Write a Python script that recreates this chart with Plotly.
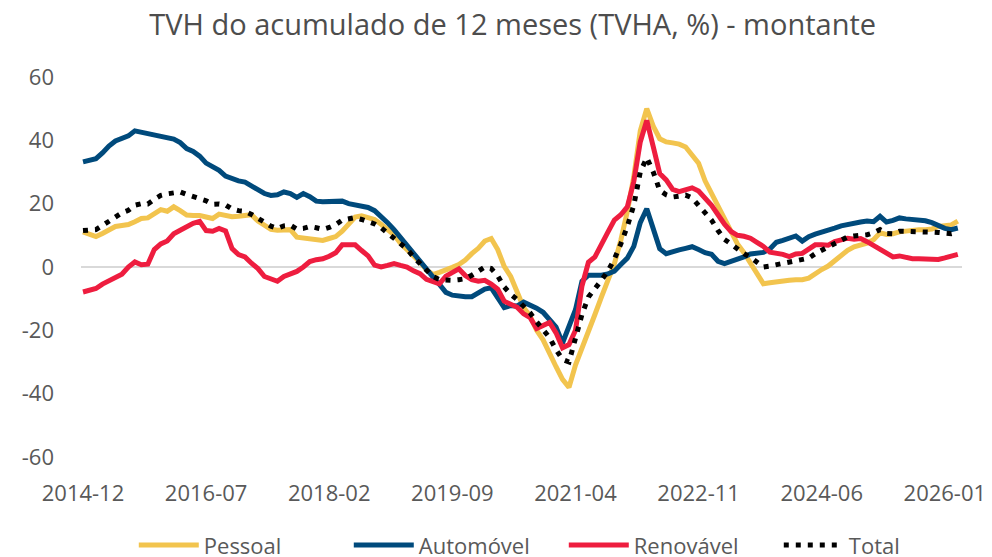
import pandas as pd
import plotly.graph_objects as go

months = [d.strftime("%Y-%m") for d in pd.date_range("2014-12-01", "2026-03-01", freq="MS")]
tick_labels = ["2014-12", "2016-07", "2018-02", "2019-09", "2021-04", "2022-11", "2024-06", "2026-01"]
y_ticks = [-60, -40, -20, 0, 20, 40, 60]
y_tick_text = ["-60", "-40", "-20", "0", "20", "40", "60"]

pessoal = [
    11.1, 10.5, 9.6, 10.6, 11.8, 12.8, 13.1, 13.4, 14.3, 15.3,
    15.5, 16.8, 18.1, 17.6, 19.0, 17.8, 16.4, 16.3, 16.3, 15.8,
    15.3, 16.7, 16.3, 15.9, 16.0, 16.3, 16.5, 14.5, 13.2, 11.9,
    11.6, 11.7, 11.8, 9.4, 9.1, 9.2, 8.6, 8.4, 9.0, 9.6,
    11.3, 13.8, 15.8, 16.2, 15.5, 15.0, 13.5, 11.8, 10.2, 7.5,
    5.6, 3.5, 1.5, -0.9, -2.4, -1.7, -1.1, -0.1, 0.8, 2.2,
    4.2, 5.9, 8.2, 9.0, 5.5, 0.2, -3.0, -7.5, -12.8, -15.5,
    -20.0, -23.0, -27.5, -31.5, -35.5, -38.0, -31.0, -26.0, -20.0, -15.0,
    -9.5, -4.5, 1.0, 8.5, 17.5, 28.5, 43.0, 50.0, 44.5, 40.5,
    39.5, 39.2, 38.8, 37.9, 35.5, 32.8, 27.2, 23.2, 18.8, 14.5,
    10.5, 7.3, 4.5, 1.2, -2.6, -5.3, -5.0, -4.6, -4.2, -4.2,
    -4.0, -4.0, -3.5, -1.9, -0.8, 0.3, 2.0, 3.9, 5.3, 6.4,
    6.9, 7.5, 8.6, 10.8, 10.3, 10.5, 11.1, 11.4, 11.6, 11.8,
    11.8, 12.0, 12.8, 13.0, 13.3, 14.5,
]

automovel = [
    33.2, 33.7, 34.2, 36.0, 38.2, 39.8, 40.7, 41.4, 43.0, 42.6,
    41.8, 41.6, 41.3, 40.9, 40.4, 39.3, 37.4, 36.5, 35.0, 32.8,
    31.7, 30.5, 28.7, 27.8, 27.2, 26.8, 25.7, 24.3, 23.2, 22.6,
    22.8, 23.7, 23.2, 22.0, 23.2, 22.2, 20.8, 20.6, 20.7, 20.8,
    20.8, 20.0, 19.6, 19.5, 18.8, 17.8, 16.0, 14.0, 11.8, 9.3,
    6.8, 4.3, 1.5, -1.2, -3.1, -5.5, -8.0, -8.9, -9.3, -9.4,
    -9.4, -8.3, -7.0, -6.6, -9.8, -12.8, -12.2, -12.3, -11.1, -12.0,
    -13.0, -14.3, -16.6, -19.0, -24.0, -19.0, -13.5, -4.5, -2.6, -2.6,
    -2.6, -2.2, -1.3, 0.8, 2.8, 6.5, 14.0, 18.4, 11.5, 5.8,
    4.2, 4.6, 5.4, 5.9, 6.4, 5.5, 4.5, 4.0, 1.8, 1.1,
    1.7, 2.7, 3.2, 4.1, 4.4, 4.6, 5.7, 7.8, 8.4, 9.0,
    9.8, 8.2, 9.6, 10.4, 10.9, 11.6, 12.3, 13.0, 13.5, 13.6,
    14.2, 14.5, 14.3, 16.0, 14.2, 14.7, 15.5, 15.2, 15.0, 15.0,
    14.6, 14.0, 12.9, 12.2, 11.8, 12.3,
]

renovavel = [
    -7.9, -7.4, -6.8, -5.4, -4.5, -3.3, -2.3, 0.0, 1.6, 0.7,
    0.9, 5.5, 7.3, 8.2, 10.5, 11.6, 12.9, 13.8, 14.4, 11.5,
    11.3, 12.2, 11.4, 5.8, 3.9, 3.2, 1.2, -0.5, -3.0, -3.7,
    -4.5, -3.0, -2.1, -1.4, 0.0, 1.7, 2.3, 2.6, 3.4, 4.5,
    7.0, 7.1, 7.0, 5.2, 3.5, 0.6, 0.0, 0.5, 1.1, 0.5,
    0.0, -1.2, -2.1, -3.9, -4.6, -5.3, -2.9, -1.7, -0.6, -2.7,
    -4.0, -4.5, -4.2, -5.4, -7.0, -10.8, -11.7, -12.7, -14.8, -16.0,
    -19.4, -18.5, -17.5, -20.8, -25.5, -24.5, -20.0, -6.0, 1.5, 3.2,
    7.5, 11.0, 14.8, 16.5, 19.0, 27.0, 39.5, 46.3, 38.0, 29.5,
    27.5, 24.5, 23.8, 24.5, 25.0, 24.0, 22.0, 19.5, 16.5, 13.5,
    11.2, 10.0, 9.7, 9.1, 7.8, 6.5, 4.7, 4.5, 4.0, 3.3,
    4.1, 4.3, 5.8, 7.0, 7.0, 6.9, 8.0, 8.5, 9.1, 8.8,
    9.0, 8.0, 6.9, 5.5, 4.4, 3.2, 3.5, 3.0, 2.6, 2.6,
    2.6, 2.6, 2.4, 2.9, 3.3, 4.0,
]

total = [
    11.5, 11.6, 11.8, 13.1, 14.5, 16.1, 17.1, 17.9, 19.5, 20.0,
    19.9, 21.4, 22.6, 23.1, 23.4, 23.7, 22.9, 22.2, 21.8, 20.9,
    19.8, 19.9, 19.6, 18.3, 17.8, 17.6, 16.6, 15.3, 14.0, 12.9,
    12.2, 13.0, 13.2, 12.0, 12.2, 12.8, 12.4, 11.9, 12.5, 13.4,
    14.8, 15.3, 15.6, 15.0, 14.4, 13.6, 12.4, 10.7, 9.2, 7.6,
    5.7, 3.2, 1.1, -1.0, -3.0, -4.0, -4.2, -4.2, -4.0, -3.7,
    -2.6, -1.5, 0.0, -0.5, -2.8, -6.3, -8.6, -10.3, -12.2, -14.5,
    -17.3, -19.8, -22.3, -26.1, -29.2, -30.0, -22.5, -15.0, -9.5, -7.0,
    -4.2, -1.3, 2.5, 7.3, 12.8, 19.5, 30.0, 34.5, 30.0, 24.2,
    22.8, 22.1, 22.6, 22.7, 21.8, 19.6, 17.2, 14.8, 11.5, 8.7,
    7.3, 5.5, 4.2, 3.1, 1.5, 0.0, 0.3, 0.7, 1.2, 1.7,
    2.2, 2.3, 2.8, 4.2, 5.3, 6.3, 7.4, 8.4, 9.5, 9.8,
    10.0, 10.2, 10.8, 11.8, 10.6, 10.5, 11.3, 11.3, 11.1, 11.1,
    11.1, 11.0, 10.9, 10.7, 10.5, 11.0,
]

FONT = "Open Sans"
fig = go.Figure()
series = [
    ("Pessoal", pessoal, "#F2C44E", None),
    ("Automóvel", automovel, "#004A7C", None),
    ("Renovável", renovavel, "#EE1D3F", None),
    ("Total", total, "#000000", "5px,7px"),
]
for name, vals, color, dash in series:
    fig.add_trace(go.Scatter(
        x=months, y=vals, name=name, mode="lines",
        line=dict(color=color, width=5, dash=dash),
    ))

fig.update_layout(
    width=992, height=557,
    paper_bgcolor="white", plot_bgcolor="white",
    margin=dict(l=81, r=30, t=77, b=100, autoexpand=False),
    font=dict(family=FONT, size=22, color="#595959"),
    title=dict(
        text="TVH do acumulado de 12 meses (TVHA, %) - montante",
        x=0.49, xref="paper", xanchor="center",
        y=0.955, yref="container", yanchor="middle",
        font=dict(family=FONT, size=29, color="#4D4D4D"),
    ),
    showlegend=True,
    legend=dict(
        orientation="h", x=0.548, xanchor="center", xref="paper",
        y=-0.232, yanchor="middle", yref="paper",
        font=dict(family=FONT, size=22, color="#595959"),
        bgcolor="rgba(0,0,0,0)",
        itemwidth=60, entrywidth=140,
    ),
)
fig.update_xaxes(
    type="category", range=[-0.31, 135.65],
    tickmode="array", tickvals=tick_labels, ticktext=tick_labels,
    showgrid=False, showline=False, ticks="", zeroline=False,
    tickfont=dict(family=FONT, size=22, color="#595959"),
    ticklabelstandoff=21,
)
fig.update_yaxes(
    range=[-60, 60], tickmode="array", tickvals=y_ticks, ticktext=y_tick_text,
    showgrid=False, showline=False, ticks="",
    zeroline=True, zerolinecolor="#D9D9D9", zerolinewidth=2,
    tickfont=dict(family=FONT, size=22, color="#595959"),
    ticklabelstandoff=26,
)

fig.write_html("out.html", config={"displayModeBar": False})
with open("out.html", encoding="utf-8") as f:
    html = f.read()
html = html.replace("<head>", "<head><style>html,body{margin:0;padding:0;overflow:hidden;}</style>", 1)
with open("out.html", "w", encoding="utf-8") as f:
    f.write(html)
